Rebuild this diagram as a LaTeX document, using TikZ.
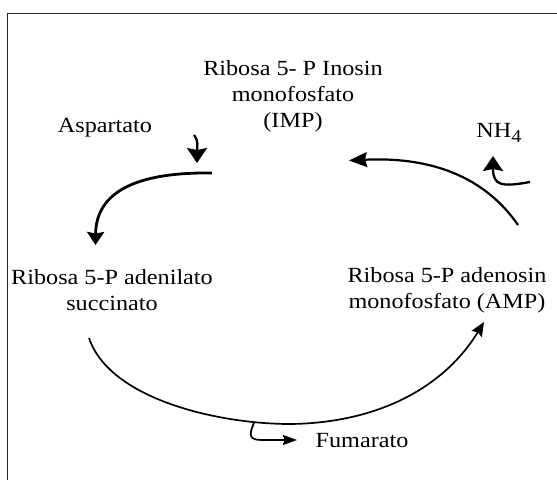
\documentclass[tikz,border=0pt]{standalone}
\usepackage{fontspec}
\setmainfont{Liberation Serif}[FakeStretch=1.12]
\usetikzlibrary{arrows.meta}
\begin{document}
\begin{tikzpicture}[x=1pt,y=-1pt,
  lbl/.style={font=\fontsize{21.6}{26}\selectfont, align=center, inner sep=0pt, text=black},
  frame/.style={line width=1.3pt, draw=black!85},
  heavyarr/.style={line width=2.8pt, -{Stealth[length=13pt,width=17pt,inset=1.5pt]}},
  midarr/.style={line width=2.2pt, -{Stealth[length=18pt,width=15pt,inset=2pt]}},
  smallarr/.style={line width=2.3pt, -{Stealth[length=15pt,width=20pt,inset=2pt]}},
  thinarr/.style={line width=1.7pt, -{Stealth[length=14pt,width=12pt,inset=2pt]}},
  fumarr/.style={line width=1.7pt, -{Stealth[length=14pt,width=10pt,inset=1.5pt]}}
]
\useasboundingbox (0,0) rectangle (557,480);
\fill[white] (0,0) rectangle (557,480);
\draw[frame] (7.7,480) -- (7.7,13.4) -- (557,13.4);

% labels
\node[lbl] (imp) at (293,96) {Ribosa 5- P Inosin\\monofosfato\\(IMP)};
\node[lbl] (asp) at (105,128) {Aspartato};
\node[lbl] (nh4) at (499,133) {NH\raisebox{-5pt}{\fontsize{18}{18}\selectfont 4}};
\node[lbl] (ade) at (112,290) {Ribosa 5-P adenilato\\succinato};
\node[lbl] (amp) at (447,290) {Ribosa 5-P adenosin\\monofosfato (AMP)};
\node[lbl] (fum) at (362,441) {Fumarato};

% connector end points
\coordinate (a1) at (212,173);
\coordinate (a2) at (95.5,245);
\coordinate (b1) at (518,225);
\coordinate (b2) at (349,160.5);
\coordinate (c1) at (89,338);
\coordinate (cm) at (290,424);
\coordinate (c2) at (484,322);
\coordinate (d1) at (194,135);
\coordinate (d2) at (197,163);
\coordinate (e1) at (530,182);
\coordinate (e2) at (493,156);
\coordinate (f1) at (254,423);
\coordinate (f2) at (297,440);

% IMP -> adenilato succinato
\draw[heavyarr] (a1) .. controls (140,172) and (96,190) .. (a2);
% AMP -> IMP
\draw[midarr] (b1) .. controls (480,170) and (420,157) .. (b2);
% adenilato succinato -> AMP
\draw[thinarr] (c1) .. controls (110,400) and (220,424) .. (cm)
  .. controls (380,423) and (445,386) .. (c2);
% Aspartato in
\draw[smallarr] (d1) .. controls (199,142) and (197,146) .. (d2);
% NH4 out
\draw[smallarr] (e1) .. controls (502,187) and (493,186) .. (e2);
% Fumarato out
\draw[fumarr] (f1) .. controls (248,436) and (250,440) .. (262,440) -- (f2);
\end{tikzpicture}
\end{document}
